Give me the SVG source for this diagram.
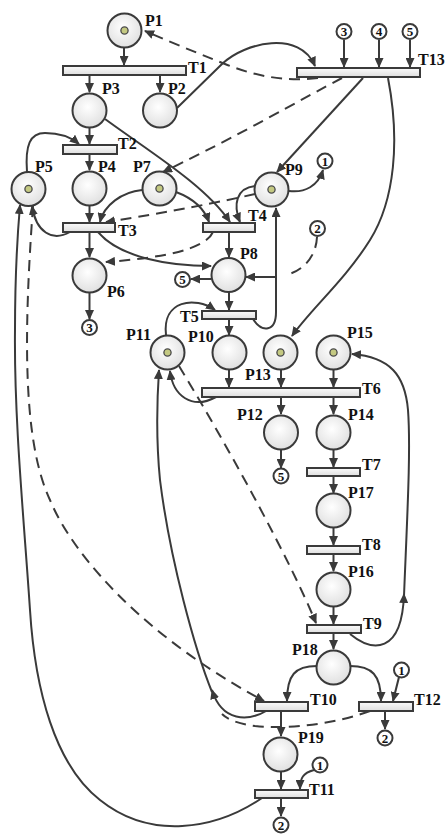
<svg xmlns="http://www.w3.org/2000/svg" width="445" height="834" viewBox="0 0 445 834">
<style>
.c{fill:none;stroke:#3a3a3a;stroke-width:2}
.d{fill:none;stroke:#3a3a3a;stroke-width:2;stroke-dasharray:11 7}
.pl{fill:url(#pg);stroke:#3a3a3a;stroke-width:2}
.tr{fill:url(#tg);stroke:#3a3a3a;stroke-width:2}
.tk{fill:#c4c982;stroke:#4a4a4a;stroke-width:1.3}
.sm{fill:#fff;stroke:#3a3a3a;stroke-width:2}
.lb{font-family:"Liberation Serif","Times New Roman",serif;font-weight:bold;font-size:16px;fill:#111}
.nm{font-family:"Liberation Serif","Times New Roman",serif;font-weight:bold;font-size:13px;fill:#111;text-anchor:middle}
</style>
<defs>
<radialGradient id="pg" cx="45%" cy="40%" r="60%"><stop offset="0" stop-color="#ffffff"/><stop offset="1" stop-color="#e0e0e0"/></radialGradient>
<linearGradient id="tg" x1="0" y1="0" x2="0" y2="1"><stop offset="0" stop-color="#fbfbfb"/><stop offset="1" stop-color="#dedede"/></linearGradient>
<marker id="a" viewBox="0 0 10 9" refX="9" refY="4.5" markerWidth="10" markerHeight="9" markerUnits="userSpaceOnUse" orient="auto"><path d="M0,0 L10,4.5 L0,9 z" fill="#3a3a3a"/></marker>
</defs>
<rect width="445" height="834" fill="#fff"/>
<g id="connectors">
<!-- top -->
<path class="c" d="M124,48 L124,65" marker-end="url(#a)"/>
<path class="c" d="M89.5,75 L89.5,92" marker-end="url(#a)"/>
<path class="c" d="M160,75 L160,92" marker-end="url(#a)"/>
<path class="c" d="M177,108 L222,64 C245,42 300,30 315,66" marker-end="url(#a)"/>
<path class="d" d="M318,78 C285,82 255,76 225,64 C195,52 170,42 145,31" marker-end="url(#a)"/>
<path class="d" d="M342,78 C300,100 240,135 163,172" marker-end="url(#a)"/>
<path class="c" d="M363,78 L277,172" marker-end="url(#a)"/>
<path class="c" d="M388,78 C400,140 395,200 370,240 C345,280 310,310 292,336" marker-end="url(#a)"/>
<path class="c" d="M344,40 L344,67" marker-end="url(#a)"/>
<path class="c" d="M379,40 L379,67" marker-end="url(#a)"/>
<path class="c" d="M410,40 L410,67" marker-end="url(#a)"/>
<!-- T2 -->
<path class="c" d="M89.5,128 L89.5,144" marker-end="url(#a)"/>
<path class="c" d="M27,172 C25,145 30,133 45,133 C60,133 72,138 79,144" marker-end="url(#a)"/>
<path class="c" d="M89.5,154 L89.5,170" marker-end="url(#a)"/>
<!-- T3 -->
<path class="c" d="M89.5,206 L89.5,222" marker-end="url(#a)"/>
<path class="c" d="M142,190 C122,192 104,205 100,222" marker-end="url(#a)"/>
<path class="d" d="M255,194 C220,202 170,212 106,222" marker-end="url(#a)"/>
<path class="c" d="M70,232 C52,242 36,232 32,206" marker-end="url(#a)"/>
<path class="c" d="M89.5,232 L89.5,257" marker-end="url(#a)"/>
<path class="c" d="M98,232 C120,258 170,266 211,266" marker-end="url(#a)"/>
<path class="c" d="M89.5,293 L89.5,319" marker-end="url(#a)"/>
<!-- T4 -->
<path class="c" d="M105,119 C150,152 205,185 230,222" marker-end="url(#a)"/>
<path class="c" d="M176,192 C192,198 204,208 209,222" marker-end="url(#a)"/>
<path class="c" d="M255,186 C236,188 233,205 240,222" marker-end="url(#a)"/>
<path class="d" d="M213,232 C205,250 160,258 106,262" marker-end="url(#a)"/>
<path class="c" d="M229,232 L229,257" marker-end="url(#a)"/>
<path class="c" d="M289,191 C305,193 318,186 323,170" marker-end="url(#a)"/>
<!-- P8 area -->
<path class="c" d="M211,279 L191,279" marker-end="url(#a)"/>
<path class="d" d="M317,237 C316,258 302,271 286,275"/>
<path class="c" d="M276,277 L246,277" marker-end="url(#a)"/>
<path class="c" d="M229,292 L229,310" marker-end="url(#a)"/>
<path class="c" d="M253,319 C262,333 276,332 276,312 L276,208" marker-end="url(#a)"/>
<!-- T5 -->
<path class="c" d="M166,335 C162,300 195,296 215,310" marker-end="url(#a)"/>
<path class="c" d="M229,319 L229,335" marker-end="url(#a)"/>
<!-- T6 -->
<path class="c" d="M229,370 L229,387" marker-end="url(#a)"/>
<path class="c" d="M281,370 L281,387" marker-end="url(#a)"/>
<path class="c" d="M333.5,370 L333.5,387" marker-end="url(#a)"/>
<path class="c" d="M216,397 C192,410 173,396 170,371" marker-end="url(#a)"/>
<path class="c" d="M281,397 L281,414" marker-end="url(#a)"/>
<path class="c" d="M333.5,397 L333.5,414" marker-end="url(#a)"/>
<path class="c" d="M281,450 L281,468" marker-end="url(#a)"/>
<!-- chain -->
<path class="c" d="M333.5,450 L333.5,467" marker-end="url(#a)"/>
<path class="c" d="M333.5,476 L333.5,493" marker-end="url(#a)"/>
<path class="c" d="M333.5,528 L333.5,545" marker-end="url(#a)"/>
<path class="c" d="M333.5,554 L333.5,571" marker-end="url(#a)"/>
<path class="c" d="M333.5,607 L333.5,624" marker-end="url(#a)"/>
<path class="c" d="M333.5,633 L333.5,649" marker-end="url(#a)"/>
<path class="d" d="M179,366 C230,450 290,560 316,623" marker-end="url(#a)"/>
<path class="c" d="M350,634 C372,652 402,655 404,594" marker-end="url(#a)"/>
<path class="c" d="M404,596 C407,520 411,450 408,410 C405,375 390,357 352,354" marker-end="url(#a)"/>
<!-- T10 / T12 -->
<path class="c" d="M317,666 C295,666 287,675 287,701" marker-end="url(#a)"/>
<path class="c" d="M350,666 C372,666 381,675 381,701" marker-end="url(#a)"/>
<path class="c" d="M399,677 L393,701" marker-end="url(#a)"/>
<path class="c" d="M385,711 L385,729" marker-end="url(#a)"/>
<path class="d" d="M33,206 C24,330 22,440 50,500 C75,560 150,640 264,701" marker-end="url(#a)"/>
<path class="d" d="M370,711 C340,722 295,730 255,726 C240,724 228,720 222,714"/>
<path class="c" d="M268,710 C248,722 222,722 212,690" marker-end="url(#a)"/>
<path class="c" d="M212,692 C195,650 170,560 160,480 C156,440 157,400 159,370" marker-end="url(#a)"/>
<path class="c" d="M281,711 L281,736" marker-end="url(#a)"/>
<path class="c" d="M281,772 L281,789" marker-end="url(#a)"/>
<path class="c" d="M314,770 C303,773 300,778 300,789" marker-end="url(#a)"/>
<path class="c" d="M281,799 L281,816" marker-end="url(#a)"/>
<path class="c" d="M262,798 C215,830 150,840 100,800 C55,765 35,690 30,610 C24,520 14,420 15,330 C15,270 17,240 20,205" marker-end="url(#a)"/>
</g>
<!-- places -->
<g id="P1"><circle class="pl" cx="124.5" cy="30.5" r="17"/><circle class="tk" cx="124.5" cy="30.5" r="3.6"/><text class="lb" x="145" y="26">P1</text></g>
<g id="P2"><circle class="pl" cx="160" cy="110.5" r="17"/><text class="lb" x="168" y="94">P2</text></g>
<g id="P3"><circle class="pl" cx="89.5" cy="110.5" r="17"/><text class="lb" x="102" y="94">P3</text></g>
<g id="P4"><circle class="pl" cx="89.5" cy="188.5" r="17"/><text class="lb" x="98" y="172">P4</text></g>
<g id="P5"><circle class="pl" cx="28.5" cy="189" r="17"/><circle class="tk" cx="28.5" cy="189" r="3.6"/><text class="lb" x="35" y="172">P5</text></g>
<g id="P7"><circle class="pl" cx="159.5" cy="188.5" r="17"/><circle class="tk" cx="159.5" cy="188.5" r="3.6"/><text class="lb" x="133" y="172">P7</text></g>
<g id="P9"><circle class="pl" cx="271.5" cy="189.5" r="17"/><circle class="tk" cx="271.5" cy="189.5" r="3.6"/><text class="lb" x="285" y="175">P9</text></g>
<g id="P6"><circle class="pl" cx="89.5" cy="275.5" r="17"/><text class="lb" x="107" y="297">P6</text></g>
<g id="P8"><circle class="pl" cx="228.5" cy="275" r="17"/><text class="lb" x="240" y="259">P8</text></g>
<g id="P10"><circle class="pl" cx="229.5" cy="352.5" r="17"/><text class="lb" x="188" y="342">P10</text></g>
<g id="P11"><circle class="pl" cx="167.5" cy="352.5" r="17"/><circle class="tk" cx="167.5" cy="352.5" r="3.6"/><text class="lb" x="126" y="340">P11</text></g>
<g id="P13"><circle class="pl" cx="280.5" cy="352.5" r="17"/><circle class="tk" cx="280.5" cy="352.5" r="3.6"/><text class="lb" x="245" y="380">P13</text></g>
<g id="P15"><circle class="pl" cx="333.5" cy="352.5" r="17"/><circle class="tk" cx="333.5" cy="352.5" r="3.6"/><text class="lb" x="347" y="338">P15</text></g>
<g id="P12"><circle class="pl" cx="281" cy="432.5" r="17"/><text class="lb" x="237" y="420">P12</text></g>
<g id="P14"><circle class="pl" cx="333.5" cy="432.5" r="17"/><text class="lb" x="348" y="420">P14</text></g>
<g id="P17"><circle class="pl" cx="333.5" cy="510.5" r="17"/><text class="lb" x="348" y="498">P17</text></g>
<g id="P16"><circle class="pl" cx="333.5" cy="589.5" r="17"/><text class="lb" x="348" y="577">P16</text></g>
<g id="P18"><circle class="pl" cx="333.5" cy="667.5" r="17"/><text class="lb" x="292" y="655">P18</text></g>
<g id="P19"><circle class="pl" cx="280.5" cy="754.5" r="17"/><text class="lb" x="298" y="743">P19</text></g>
<!-- transitions -->
<g id="T1"><rect class="tr" x="63" y="66" width="123" height="9"/><text class="lb" x="188" y="73">T1</text></g>
<g id="T13"><rect class="tr" x="297" y="68" width="123" height="9"/><text class="lb" x="418" y="65">T13</text></g>
<g id="T2"><rect class="tr" x="63" y="145" width="54" height="9"/><text class="lb" x="118" y="149">T2</text></g>
<g id="T3"><rect class="tr" x="63" y="223" width="52" height="9"/><text class="lb" x="118" y="236">T3</text></g>
<g id="T4"><rect class="tr" x="203" y="223" width="52" height="9"/><text class="lb" x="248" y="221">T4</text></g>
<g id="T5"><rect class="tr" x="202" y="311" width="54" height="8"/><text class="lb" x="180" y="322">T5</text></g>
<g id="T6"><rect class="tr" x="202" y="388" width="158" height="9"/><text class="lb" x="362" y="394">T6</text></g>
<g id="T7"><rect class="tr" x="307" y="468" width="53" height="8"/><text class="lb" x="362" y="470">T7</text></g>
<g id="T8"><rect class="tr" x="307" y="546" width="53" height="8"/><text class="lb" x="362" y="550">T8</text></g>
<g id="T9"><rect class="tr" x="307" y="625" width="54" height="8"/><text class="lb" x="363" y="629">T9</text></g>
<g id="T10"><rect class="tr" x="255" y="702" width="53" height="9"/><text class="lb" x="310" y="705">T10</text></g>
<g id="T12"><rect class="tr" x="359" y="702" width="54" height="9"/><text class="lb" x="414" y="705">T12</text></g>
<g id="T11"><rect class="tr" x="255" y="790" width="53" height="8"/><text class="lb" x="309" y="795">T11</text></g>
<!-- numbered references -->
<g id="n3top"><circle class="sm" cx="344" cy="31.5" r="7.5"/><text class="nm" x="344" y="36">3</text></g>
<g id="n4top"><circle class="sm" cx="379" cy="31.5" r="7.5"/><text class="nm" x="379" y="36">4</text></g>
<g id="n5top"><circle class="sm" cx="410" cy="31.5" r="7.5"/><text class="nm" x="410" y="36">5</text></g>
<g id="n1P9"><circle class="sm" cx="325" cy="161" r="7.5"/><text class="nm" x="325" y="165.5">1</text></g>
<g id="n2P8"><circle class="sm" cx="317.5" cy="228.5" r="7.5"/><text class="nm" x="317.5" y="233">2</text></g>
<g id="n5P8"><circle class="sm" cx="182.5" cy="279.5" r="7.5"/><text class="nm" x="182.5" y="284">5</text></g>
<g id="n3P6"><circle class="sm" cx="89.5" cy="327.5" r="7.5"/><text class="nm" x="89.5" y="332">3</text></g>
<g id="n5P12"><circle class="sm" cx="281" cy="476" r="7.5"/><text class="nm" x="281" y="480.5">5</text></g>
<g id="n1T12"><circle class="sm" cx="401.5" cy="670" r="7.5"/><text class="nm" x="401.5" y="674.5">1</text></g>
<g id="n2T12"><circle class="sm" cx="385" cy="738" r="7.5"/><text class="nm" x="385" y="742.5">2</text></g>
<g id="n1T11"><circle class="sm" cx="320" cy="765" r="7.5"/><text class="nm" x="320" y="769.5">1</text></g>
<g id="n2T11"><circle class="sm" cx="281" cy="825" r="7.5"/><text class="nm" x="281" y="829.5">2</text></g>
</svg>
